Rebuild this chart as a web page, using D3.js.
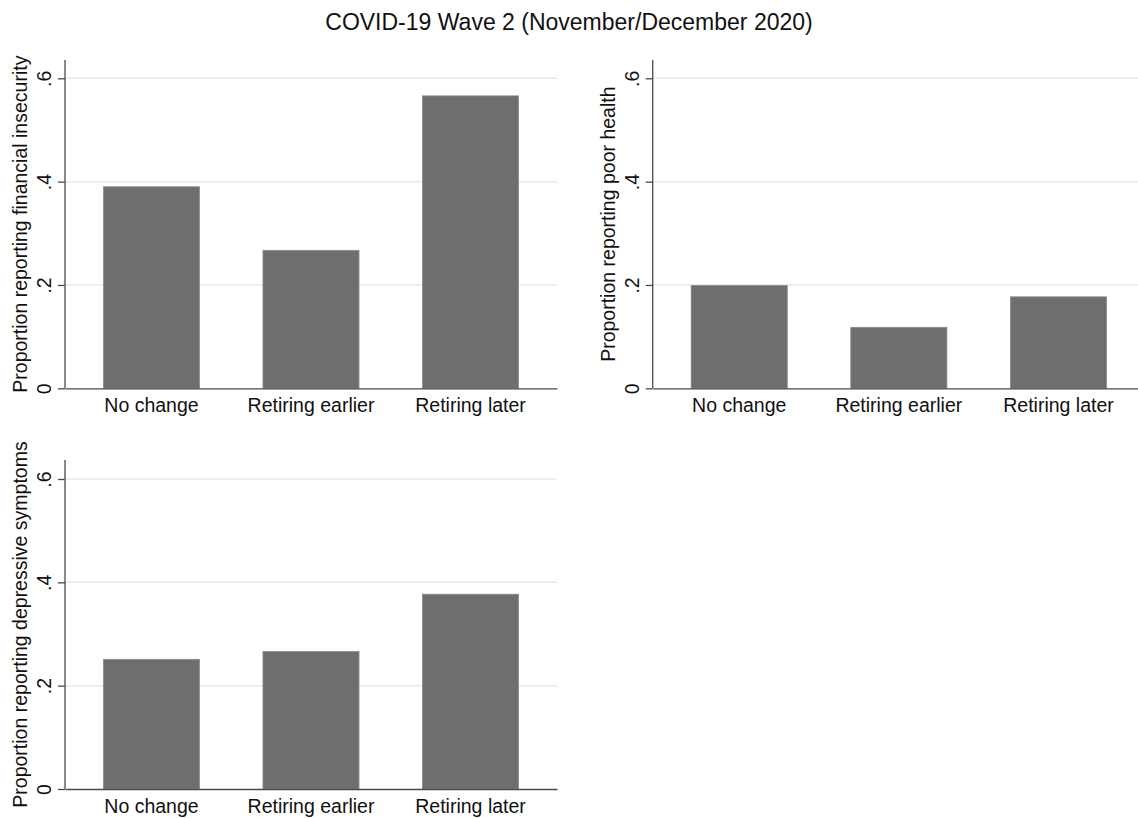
<!DOCTYPE html>
<html>
<head>
<meta charset="utf-8">
<script src="https://cdn.jsdelivr.net/npm/d3@7"></script>
<style>
  body { margin: 0; background: #fff; }
  svg { display: block; font-family: "Liberation Sans", Arial, sans-serif; }
  .grid line { stroke: #e8e8e8; stroke-width: 1.5; }
  .axis path, .axis line { stroke: #4a4a4a; stroke-width: 1.3; }
  .axis text { fill: #111; font-size: 19.5px; }
  .bar { fill: #6e6e6e; stroke: #8a8a8a; stroke-width: 0.8; }
  .ytitle { font-size: 19.5px; fill: #111; }
</style>
</head>
<body>
<svg width="1138" height="818"></svg>
<script>
  const categories = ['No change', 'Retiring earlier', 'Retiring later'];
  const yTicks = [0, 0.2, 0.4, 0.6];
  const yTickLabels = ['0', '.2', '.4', '.6'];

  const financialInsecurity = [0.390, 0.267, 0.566];
  const poorHealth = [0.199, 0.118, 0.177];
  const depressiveSymptoms = [0.251, 0.266, 0.377];

  const panels = [
    { values: financialInsecurity, title: 'Proportion reporting financial insecurity', x0: 65, x1: 557, y0: 388.3, axisTop: 60 },
    { values: poorHealth, title: 'Proportion reporting poor health', x0: 652.7, x1: 1145, y0: 388.3, axisTop: 60 },
    { values: depressiveSymptoms, title: 'Proportion reporting depressive symptoms', x0: 65, x1: 557, y0: 789, axisTop: 460 }
  ];

  const svg = d3.select('svg');

  svg.append('text')
    .attr('x', 569)
    .attr('y', 30)
    .attr('text-anchor', 'middle')
    .style('font-size', '23px')
    .style('fill', '#111')
    .text('COVID-19 Wave 2 (November/December 2020)');

  panels.forEach(p => {
    const g = svg.append('g');

    const y = d3.scaleLinear()
      .domain([0, 0.6])
      .range([p.y0, p.y0 - 310]);

    const x = d3.scaleBand()
      .domain(categories)
      .range([p.x0, p.x1])
      .paddingInner(0.398)
      .paddingOuter(0.241);

    // gridlines
    g.append('g')
      .attr('class', 'grid')
      .selectAll('line')
      .data(yTicks.filter(d => d > 0))
      .join('line')
      .attr('x1', p.x0)
      .attr('x2', p.x1)
      .attr('y1', d => y(d))
      .attr('y2', d => y(d));

    g.selectAll('rect.bar')
      .data(p.values)
      .join('rect')
      .attr('class', 'bar')
      .attr('x', (d, i) => x(categories[i]))
      .attr('width', x.bandwidth())
      .attr('y', d => y(d))
      .attr('height', d => p.y0 - y(d));

    // y axis
    const yAxisG = g.append('g')
      .attr('class', 'axis')
      .attr('transform', `translate(${p.x0},0)`)
      .call(d3.axisLeft(y)
        .tickValues(yTicks)
        .tickFormat((d, i) => yTickLabels[i])
        .tickSize(7)
        .tickSizeOuter(0));
    yAxisG.select('.domain').attr('d', `M0,${p.axisTop}V${p.y0}`);
    yAxisG.selectAll('text')
      .attr('x', 0)
      .attr('y', 0)
      .attr('dy', '0')
      .attr('text-anchor', 'middle')
      .attr('transform', 'translate(-14,0) rotate(-90)');

    // x axis
    const xAxisG = g.append('g')
      .attr('class', 'axis')
      .attr('transform', `translate(0,${p.y0})`)
      .call(d3.axisBottom(x).tickSize(0).tickSizeOuter(0));
    xAxisG.selectAll('text').attr('dy', '0').attr('y', 23.5);

    g.append('text')
      .attr('class', 'ytitle')
      .attr('text-anchor', 'middle')
      .attr('transform', `translate(${p.x0 - 38},${(p.axisTop + p.y0) / 2}) rotate(-90)`)
      .text(p.title);
  });
</script>
</body>
</html>
